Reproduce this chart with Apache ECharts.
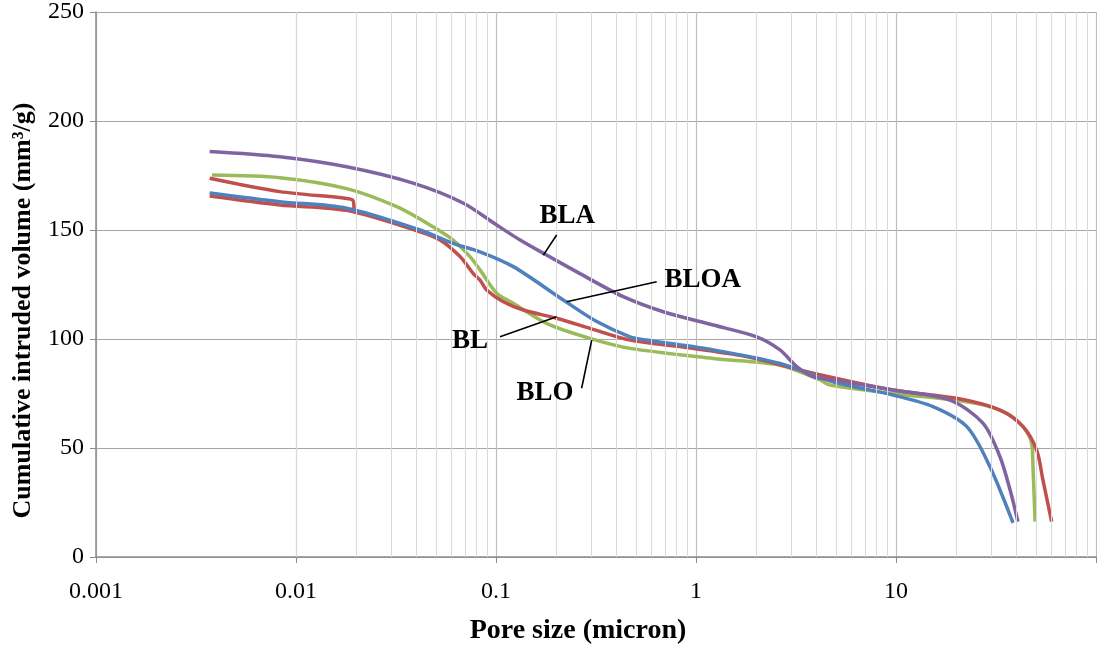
<!DOCTYPE html>
<html>
<head>
<meta charset="utf-8">
<script src="https://cdn.jsdelivr.net/npm/echarts@6/dist/echarts.min.js"></script>
<style>
  html, body { margin: 0; padding: 0; background: #fff; }
  #chart { width: 1097px; height: 647px; }
</style>
</head>
<body>
<div id="chart"></div>
<script>
  // pore size (micron) / cumulative intruded volume (mm3/g)
  var bla = [
    [0.0037, 186], [0.0083, 183.6], [0.0179, 179], [0.0385, 171.5], [0.0684, 162.4],
    [0.1, 152.5], [0.132, 145.4], [0.179, 138.5], [0.263, 130], [0.433, 119.4],
    [0.686, 112.5], [1.22, 106.4], [2.01, 101], [2.63, 95], [3.19, 87.3], [3.85, 82.7],
    [4.84, 81.2], [9.66, 76.6], [18.6, 72], [27.2, 61.4], [33.1, 46], [37.2, 30.7],
    [40.7, 16.2]
  ];
  var bloa = [
    [0.0037, 167], [0.0083, 163], [0.0179, 160], [0.0417, 150], [0.061, 143.9],
    [0.0832, 140], [0.122, 133.2], [0.217, 117.9], [0.319, 108], [0.468, 101],
    [0.567, 99.5], [1.22, 95], [2.63, 88.8], [4.84, 80.4], [9.66, 74.3], [15.3, 69],
    [22.6, 59.8], [29.5, 41.4], [38.5, 15.6]
  ];
  var bl = [
    [0.0037, 165.6], [0.0083, 161.5], [0.0179, 159], [0.0417, 149.2], [0.0525, 145.4],
    [0.0661, 137.8], [0.077, 130], [0.0832, 127], [0.0898, 122.5], [0.1088, 117.1],
    [0.137, 113.3], [0.201, 109.5], [0.295, 104.9], [0.468, 99.5], [0.832, 96.5],
    [1.79, 91.9], [3.85, 84.3], [9.66, 76.6], [20.1, 72.8], [33.1, 67.4], [43.2, 59.8],
    [50.5, 49], [54.3, 35.3], [60, 16.2]
  ];
  // short upper branch of BL with its hook near 0.02 micron
  var blUpper = [
    [0.0037, 173.7], [0.0083, 167.6], [0.0179, 164.5], [0.0193, 163.5], [0.0195, 159]
  ];
  var blo = [
    [0.0038, 175.2], [0.0083, 174], [0.0179, 169], [0.0319, 160.7], [0.0484, 151.5],
    [0.061, 145.4], [0.0741, 137.8], [0.0832, 131.7], [0.1008, 121], [0.122, 116.4],
    [0.179, 107.2], [0.295, 100.3], [0.468, 95.7], [1.22, 91.1], [2.63, 88],
    [4.17, 81.2], [4.68, 78.9], [9.66, 75], [22.6, 71.2], [33.1, 67.4], [41.7, 61.3],
    [47.7, 52.1], [48.4, 41.4], [49.6, 16.2]
  ];

  var xTickLabels = ['0.001', '0.01', '0.1', '1', '10', ''];
  var yTicks = [0, 50, 100, 150, 200, 250];

  // labels and their leader lines, in data units
  var labelNames = ['BLA', 'BLOA', 'BL', 'BLO'];
  var labelAt = [[0.227, 156.4], [1.08, 127], [0.0741, 99], [0.176, 75.2]];
  var leaderFrom = [[0.201, 147.7], [0.636, 126.3], [0.1047, 101], [0.268, 77.4]];
  var leaderTo = [[0.1724, 138.5], [0.2257, 117.1], [0.2012, 110.2], [0.301, 99.5]];

  // minor gridlines 2..9 in every decade
  var minorX = [];
  for (var d = -3; d < 2; d++) {
    for (var m = 2; m <= 9; m++) minorX.push({ xAxis: m * Math.pow(10, d) });
  }

  var serif = '"Liberation Serif", "DejaVu Serif", serif';

  function curve(name, data, color) {
    return {
      name: name,
      type: 'line',
      data: data,
      symbol: 'none',
      smooth: 0.3,
      lineStyle: { color: color, width: 3.5 },
      z: 3
    };
  }

  var myChart = echarts.init(document.getElementById('chart'));
  myChart.setOption({
    animation: false,
    backgroundColor: '#fff',
    grid: { left: 96, right: 1, top: 12, bottom: 90, outerBoundsMode: 'none', containLabel: false },
    xAxis: {
      type: 'log',
      logBase: 10,
      min: 0.001,
      max: 100,
      name: 'Pore size (micron)',
      nameLocation: 'middle',
      nameGap: 60,
      nameTextStyle: {
        fontFamily: serif, fontSize: 28, fontWeight: 'bold', color: '#000',
        padding: [0, 36, 0, 0]
      },
      axisLine: { lineStyle: { color: '#8c8c8c', width: 1.5 } },
      axisTick: { show: true, length: 6, lineStyle: { color: '#8c8c8c' } },
      axisLabel: {
        fontFamily: serif, fontSize: 24, color: '#000', margin: 23,
        formatter: function (v) {
          var i = Math.round(Math.log10(v)) + 3;
          return xTickLabels[i] || '';
        }
      },
      splitLine: { show: true, lineStyle: { color: '#bdbdbd', width: 1.2 } }
    },
    yAxis: {
      type: 'value',
      min: yTicks[0],
      max: yTicks[yTicks.length - 1],
      interval: 50,
      name: 'Cumulative intruded volume (mm³/g)',
      nameLocation: 'middle',
      nameGap: 60,
      nameTextStyle: {
        fontFamily: serif, fontSize: 26, fontWeight: 'bold', color: '#000',
        padding: [0, 52, 0, 0]
      },
      axisLine: { show: true, lineStyle: { color: '#8c8c8c', width: 1.5 } },
      axisTick: { show: true, length: 6, lineStyle: { color: '#8c8c8c' } },
      axisLabel: { fontFamily: serif, fontSize: 24, color: '#000', margin: 12 },
      splitLine: { show: true, lineStyle: { color: '#a6a6a6', width: 1.2 } }
    },
    series: [
      {
        name: 'grid',
        type: 'line',
        data: [],
        silent: true,
        markLine: {
          silent: true,
          symbol: ['none', 'none'],
          label: { show: false },
          lineStyle: { color: '#d9d9d9', width: 1, type: 'solid' },
          data: minorX
        },
        z: 1
      },
      curve('BLO', blo, '#9BBB59'),
      curve('BL', bl, '#C0504D'),
      curve('BL', blUpper, '#C0504D'),
      curve('BLOA', bloa, '#4F81BD'),
      curve('BLA', bla, '#8064A2'),
      {
        name: 'labels',
        type: 'line',
        data: [],
        markLine: {
          silent: true,
          symbol: ['none', 'none'],
          label: { show: false },
          lineStyle: { color: '#000', width: 1.6, type: 'solid' },
          data: leaderFrom.map(function (p, i) {
            return [{ coord: p }, { coord: leaderTo[i] }];
          })
        },
        markPoint: {
          symbol: 'circle',
          symbolSize: 0,
          label: {
            show: true,
            position: 'inside',
            fontFamily: serif,
            fontSize: 27,
            fontWeight: 'bold',
            color: '#000',
            formatter: function (p) { return p.name; }
          },
          data: labelNames.map(function (n, i) {
            return { name: n, coord: labelAt[i] };
          })
        },
        z: 5
      }
    ]
  });
</script>
</body>
</html>
